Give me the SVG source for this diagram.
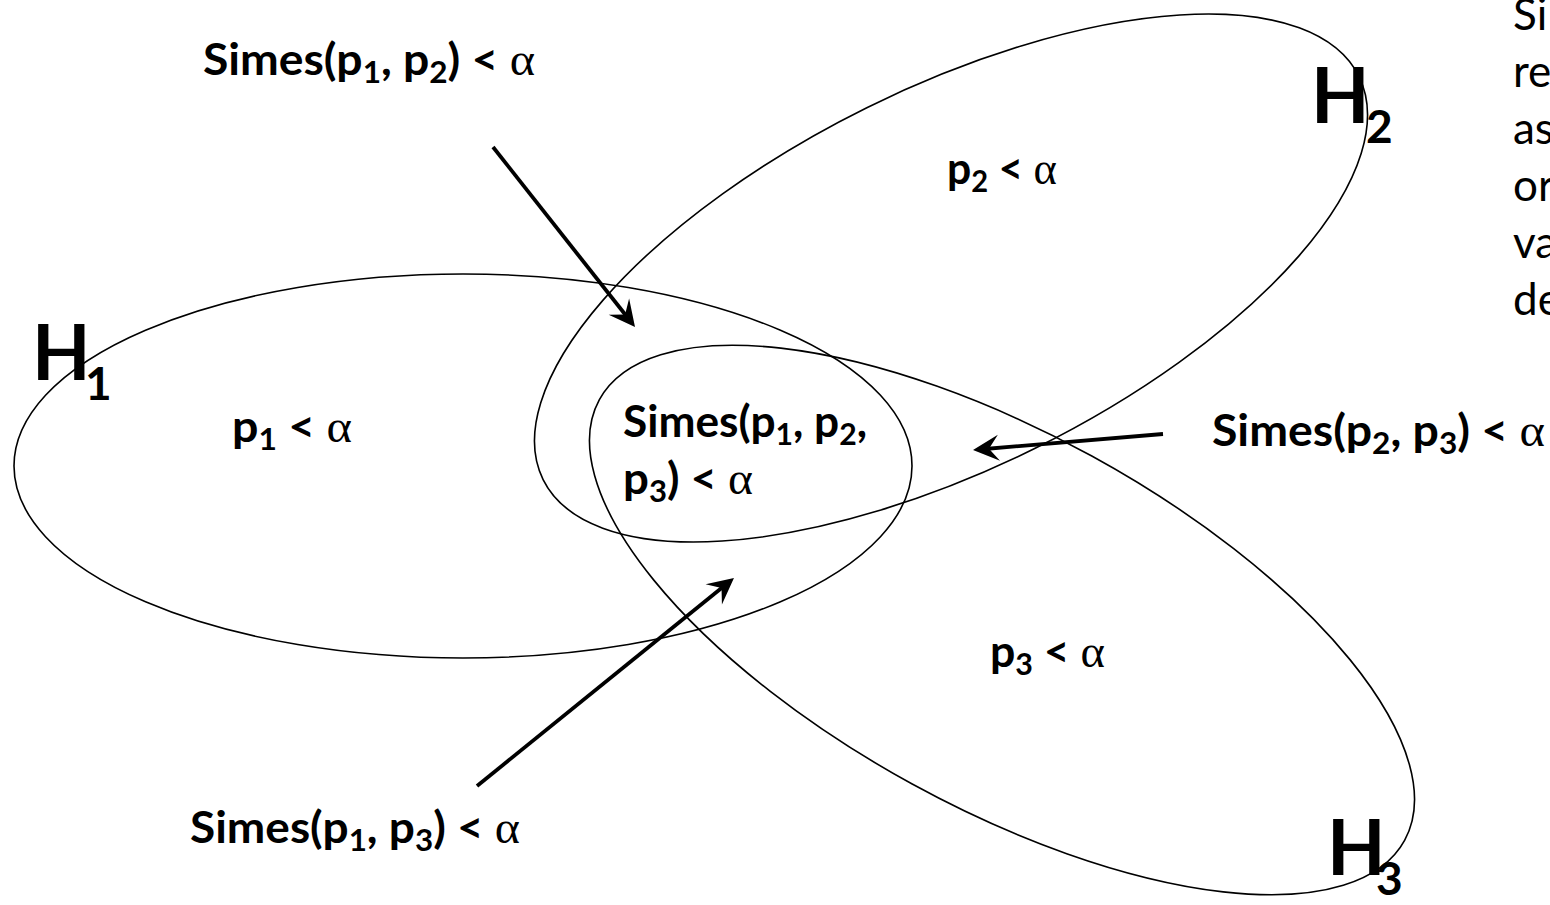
<svg xmlns="http://www.w3.org/2000/svg" width="1550" height="905" viewBox="0 0 1550 905">
<defs>
<style>
.set{fill:none;stroke:#000;stroke-width:1.6}
.arr{stroke:#000;stroke-width:3.8;fill:none;marker-end:url(#ah)}
.t{font-family:Lato,"Liberation Sans",sans-serif;font-weight:bold;font-size:44px;fill:#000}
.sub{font-size:30px}
.a{font-family:"Liberation Serif","DejaVu Serif",serif;font-weight:normal;font-size:46px}
.hl{font-family:Lato,"Liberation Sans",sans-serif;font-weight:bold;font-size:76px;fill:#000}
.hs{font-size:46px}
.note{font-family:Lato,"Liberation Sans",sans-serif;font-size:44px;fill:#000}
</style>
<marker id="ah" markerUnits="userSpaceOnUse" markerWidth="40" markerHeight="30" viewBox="-30 -15 40 30" refX="-6" refY="0" orient="auto" overflow="visible">
<path d="M0,0 L-26,-13 L-16,0 L-26,13 Z" fill="#000"/>
</marker>
</defs>
<rect width="1550" height="905" fill="#fff"/>

<g id="H1">
<ellipse class="set" cx="463" cy="466" rx="449" ry="192"/>
<text class="hl" x="32" y="380">H</text>
<text class="hl hs" x="85" y="400">1</text>
<text class="t" x="232" y="442" textLength="120" lengthAdjust="spacingAndGlyphs">p<tspan class="sub" dy="8">1</tspan><tspan dy="-8"> &lt; </tspan><tspan class="a">α</tspan></text>
</g>

<g id="H2">
<ellipse class="set" cx="951" cy="278" rx="455" ry="190" transform="rotate(-26.3 951 278)"/>
<text class="hl" x="1311" y="123">H</text>
<text class="hl hs" x="1366" y="143">2</text>
<text class="t" x="947" y="184" textLength="110" lengthAdjust="spacingAndGlyphs">p<tspan class="sub" dy="8">2</tspan><tspan dy="-8"> &lt; </tspan><tspan class="a">α</tspan></text>
</g>

<g id="H3">
<ellipse class="set" cx="1002" cy="620" rx="459" ry="187" transform="rotate(28.7 1002 620)"/>
<text class="hl" x="1327" y="875">H</text>
<text class="hl hs" x="1376" y="895">3</text>
<text class="t" x="990" y="667" textLength="115" lengthAdjust="spacingAndGlyphs">p<tspan class="sub" dy="8">3</tspan><tspan dy="-8"> &lt; </tspan><tspan class="a">α</tspan></text>
</g>

<g id="H123">
<text class="t" x="623" y="437" textLength="244" lengthAdjust="spacingAndGlyphs">Simes(p<tspan class="sub" dy="8">1</tspan><tspan dy="-8">, p</tspan><tspan class="sub" dy="8">2</tspan><tspan dy="-8">,</tspan></text>
<text class="t" x="623" y="494" textLength="130" lengthAdjust="spacingAndGlyphs">p<tspan class="sub" dy="8">3</tspan><tspan dy="-8">) &lt; </tspan><tspan class="a">α</tspan></text>
</g>

<g id="L12">
<text class="t" x="203" y="75" textLength="332" lengthAdjust="spacingAndGlyphs">Simes(p<tspan class="sub" dy="8">1</tspan><tspan dy="-8">, p</tspan><tspan class="sub" dy="8">2</tspan><tspan dy="-8">) &lt; </tspan><tspan class="a">α</tspan></text>
</g>

<g id="L23">
<text class="t" x="1212" y="446" textLength="333" lengthAdjust="spacingAndGlyphs">Simes(p<tspan class="sub" dy="8">2</tspan><tspan dy="-8">, p</tspan><tspan class="sub" dy="8">3</tspan><tspan dy="-8">) &lt; </tspan><tspan class="a">α</tspan></text>
</g>

<g id="L13">
<text class="t" x="190" y="843" textLength="330" lengthAdjust="spacingAndGlyphs">Simes(p<tspan class="sub" dy="8">1</tspan><tspan dy="-8">, p</tspan><tspan class="sub" dy="8">3</tspan><tspan dy="-8">) &lt; </tspan><tspan class="a">α</tspan></text>
</g>

<g id="note">
<text class="note" x="1513" y="30">Si</text>
<text class="note" x="1513" y="87">re</text>
<text class="note" x="1513" y="144">as</text>
<text class="note" x="1513" y="201">or</text>
<text class="note" x="1513" y="258">va</text>
<text class="note" x="1513" y="315">de</text>
</g>

<g id="connectors">
<line class="arr" x1="493" y1="147" x2="631.3" y2="322.3"/>
<line class="arr" x1="1163" y1="434" x2="979" y2="449.5"/>
<line class="arr" x1="477" y1="786" x2="729.3" y2="581.8"/>
</g>
</svg>
